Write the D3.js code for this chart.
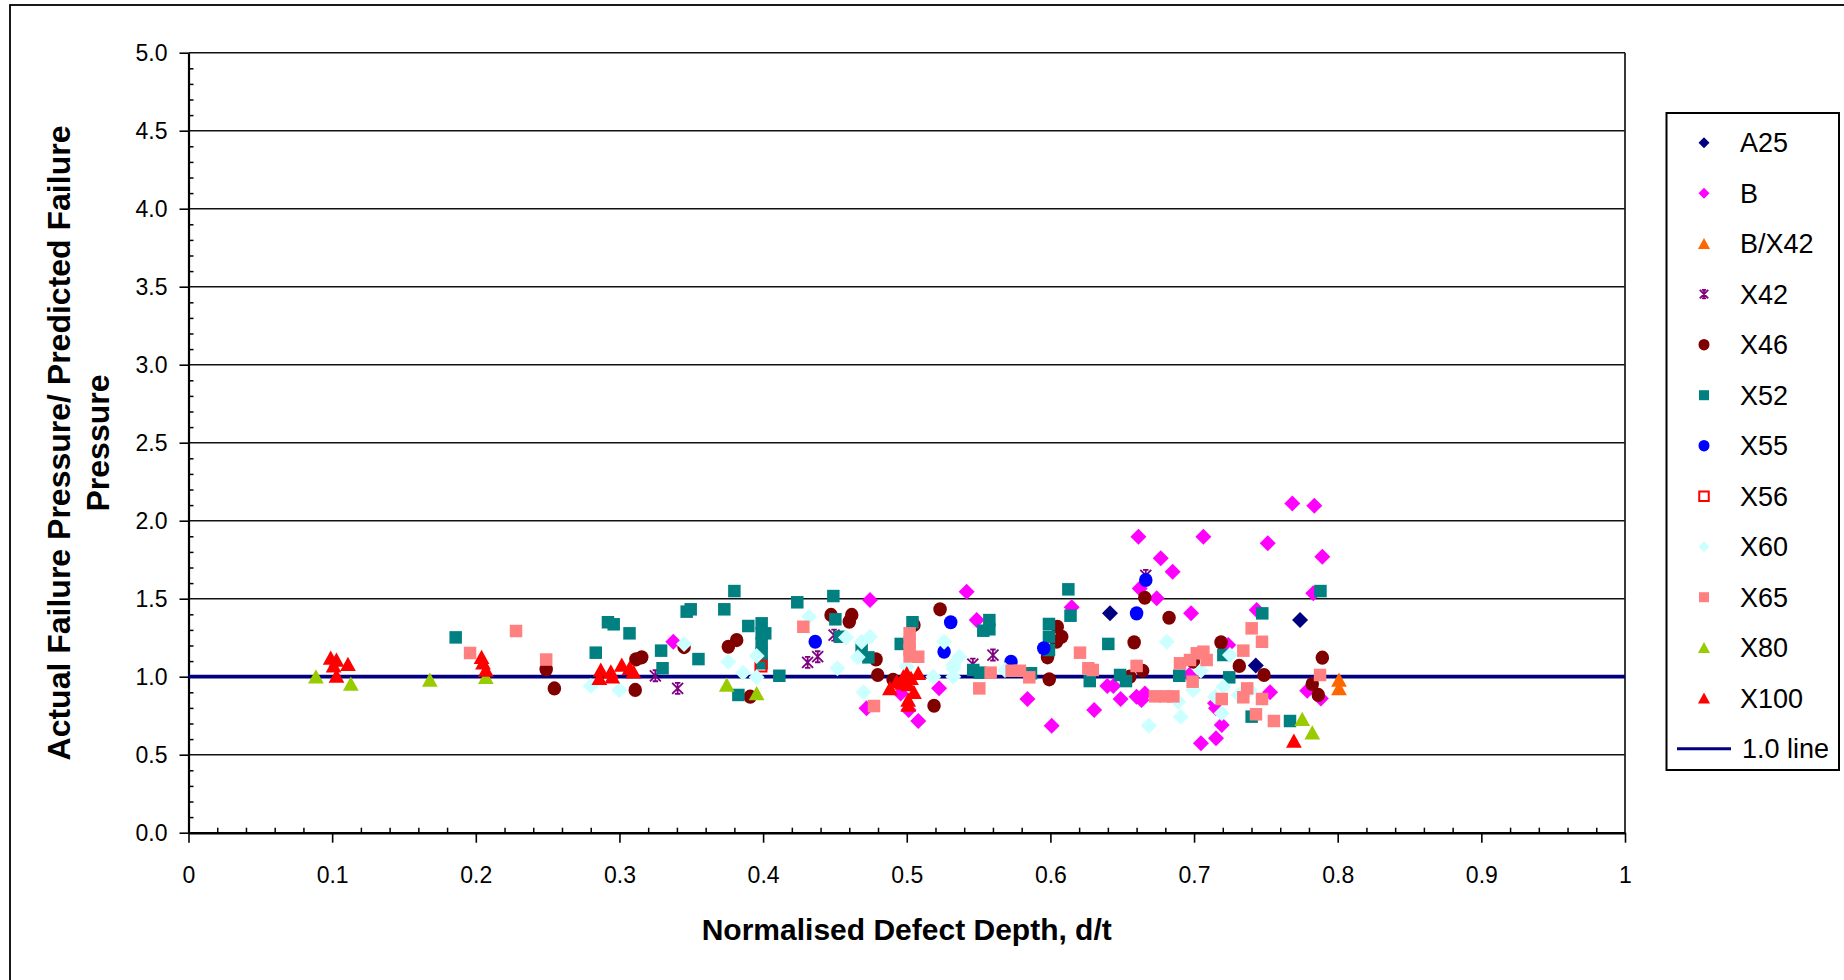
<!DOCTYPE html>
<html>
<head>
<meta charset="utf-8">
<script src="https://cdn.jsdelivr.net/npm/d3@7"></script>
<style>
  html, body { margin: 0; padding: 0; background: #fff; overflow: hidden; }
  svg { display: block; }
  text { font-family: "Liberation Sans", Arial, sans-serif; fill: #000; }
</style>
</head>
<body>
<div id="chart"></div>
<script>
// ---- data ----
const xTicks = [0, 0.1, 0.2, 0.3, 0.4, 0.5, 0.6, 0.7, 0.8, 0.9, 1];
const xTickLabels = ["0", "0.1", "0.2", "0.3", "0.4", "0.5", "0.6", "0.7", "0.8", "0.9", "1"];
const yTicks = [0, 0.5, 1, 1.5, 2, 2.5, 3, 3.5, 4, 4.5, 5];
const yTickLabels = ["0.0", "0.5", "1.0", "1.5", "2.0", "2.5", "3.0", "3.5", "4.0", "4.5", "5.0"];

const a25 = [[0.6415, 1.406], [0.7738, 1.363], [0.743, 1.071]];
const b = [
  [0.3375, 1.224], [0.4744, 1.492], [0.472, 0.797], [0.4958, 0.893], [0.5013, 0.787],
  [0.508, 0.716], [0.5225, 0.926], [0.5417, 1.545], [0.5487, 1.363], [0.584, 0.857],
  [0.6009, 0.686], [0.6148, 1.445], [0.6305, 0.787], [0.6396, 0.94], [0.6438, 0.94],
  [0.6489, 0.857], [0.6613, 1.897], [0.6622, 1.566], [0.66, 0.872], [0.6634, 0.851],
  [0.6658, 0.893], [0.674, 1.503], [0.6768, 1.759], [0.6851, 1.673], [0.6979, 1.406],
  [0.7065, 1.897], [0.6967, 1.011], [0.7146, 0.83], [0.7153, 0.797], [0.7193, 0.69],
  [0.7048, 0.573], [0.7153, 0.605], [0.7238, 1.203], [0.7436, 1.427], [0.7513, 1.855],
  [0.7529, 0.9], [0.7684, 2.111], [0.7837, 2.096], [0.7893, 1.769], [0.783, 1.535],
  [0.7788, 0.91], [0.7883, 0.861]
];
const bx42 = [[0.8009, 0.979], [0.8009, 0.925]];
const x42 = [
  [0.325, 1.006], [0.3405, 0.925], [0.431, 1.092], [0.438, 1.128], [0.4494, 1.267],
  [0.546, 1.081], [0.56, 1.139], [0.6664, 1.65]
];
const x46 = [
  [0.249, 1.047], [0.2547, 0.925], [0.3115, 1.111], [0.3155, 1.124], [0.311, 0.915],
  [0.345, 1.19], [0.3758, 1.192], [0.3816, 1.235], [0.391, 0.872], [0.4473, 1.396],
  [0.4617, 1.396], [0.46, 1.353], [0.4786, 1.111], [0.4798, 1.011], [0.4905, 0.98],
  [0.505, 1.331], [0.519, 0.814], [0.5232, 1.432], [0.5992, 0.983], [0.598, 1.124],
  [0.6048, 1.32], [0.6079, 1.256], [0.6043, 1.224], [0.6554, 1.0], [0.6583, 1.22],
  [0.6642, 1.038], [0.6657, 1.506], [0.6826, 1.378], [0.6995, 1.096], [0.7188, 1.22],
  [0.7315, 1.069], [0.7487, 1.011], [0.7893, 1.122], [0.7823, 0.953], [0.7865, 0.883]
];
const x52 = [
  [0.186, 1.252], [0.2835, 1.154], [0.292, 1.349], [0.296, 1.336], [0.307, 1.278],
  [0.329, 1.167], [0.33, 1.054], [0.3468, 1.417], [0.3496, 1.432], [0.355, 1.113],
  [0.373, 1.432], [0.38, 1.549], [0.3828, 0.883], [0.3897, 1.325], [0.399, 1.342],
  [0.399, 1.278], [0.399, 1.214], [0.399, 1.15], [0.399, 1.086], [0.4015, 1.278],
  [0.4113, 1.006], [0.4238, 1.477], [0.4489, 1.517], [0.4503, 1.368], [0.4535, 1.256],
  [0.4686, 1.182], [0.4733, 1.124], [0.4958, 1.21], [0.504, 1.349], [0.5463, 1.043],
  [0.551, 1.026], [0.5575, 1.363], [0.5533, 1.295], [0.5575, 1.304], [0.5865, 1.022],
  [0.599, 1.338], [0.599, 1.256], [0.599, 1.171], [0.6125, 1.56], [0.614, 1.391],
  [0.6274, 0.972], [0.6403, 1.21], [0.6485, 1.011], [0.6526, 0.972], [0.6897, 1.006],
  [0.7204, 1.139], [0.7245, 0.996], [0.7401, 0.744], [0.7475, 1.406], [0.7668, 0.716],
  [0.788, 1.549]
];
const x55 = [
  [0.4363, 1.224], [0.5306, 1.349], [0.526, 1.16], [0.5726, 1.096], [0.5954, 1.182],
  [0.66, 1.406], [0.6664, 1.62]
];
const x56 = [[0.3985, 1.069]];
const x60 = [
  [0.28, 0.94], [0.2999, 0.915], [0.345, 1.21], [0.3758, 1.096], [0.386, 1.026],
  [0.3955, 1.133], [0.3955, 0.996], [0.432, 1.385], [0.4517, 1.054], [0.4577, 1.252],
  [0.4659, 1.124], [0.4686, 1.224], [0.4744, 1.256], [0.47, 0.9], [0.5, 1.064],
  [0.5185, 1.0], [0.526, 1.224], [0.5324, 1.075], [0.5324, 1.0], [0.5366, 1.128],
  [0.5324, 1.054], [0.5684, 1.043], [0.6685, 0.686], [0.681, 1.224], [0.689, 0.84],
  [0.6907, 0.744], [0.6995, 0.915], [0.7047, 1.038], [0.7146, 0.872], [0.7204, 0.936],
  [0.7193, 0.765], [0.725, 1.139], [0.731, 0.883], [0.7331, 0.893], [0.739, 0.915]
];
const x65 = [
  [0.196, 1.152], [0.228, 1.293], [0.249, 1.11], [0.428, 1.32], [0.4772, 0.812],
  [0.502, 1.278], [0.502, 1.224], [0.502, 1.17], [0.502, 1.13], [0.508, 1.128],
  [0.5505, 0.925], [0.5584, 1.026], [0.573, 1.038], [0.5788, 1.038], [0.5853, 0.996],
  [0.6206, 1.154], [0.6264, 1.054], [0.6295, 1.043], [0.66, 1.069], [0.6728, 0.874],
  [0.6798, 0.874], [0.6856, 0.874], [0.6902, 1.086], [0.6972, 1.107], [0.7019, 1.15],
  [0.7065, 1.16], [0.7088, 1.107], [0.699, 0.968], [0.7193, 0.857], [0.7343, 1.167],
  [0.7401, 1.31], [0.7473, 1.224], [0.737, 0.925], [0.7343, 0.868], [0.7431, 0.759],
  [0.7473, 0.857], [0.7556, 0.716], [0.7877, 1.011]
];
const x80 = [
  [0.0887, 1.0], [0.113, 0.953], [0.168, 0.979], [0.207, 0.996], [0.3747, 0.947],
  [0.3955, 0.893], [0.7753, 0.727], [0.7823, 0.641]
];
const x100 = [
  [0.099, 1.12], [0.103, 1.107], [0.101, 1.07], [0.111, 1.08], [0.103, 1.005],
  [0.204, 1.124], [0.205, 1.09], [0.207, 1.043],
  [0.287, 1.043], [0.286, 0.99], [0.294, 1.032], [0.295, 1.0], [0.3016, 1.075],
  [0.307, 1.054], [0.3097, 1.032],
  [0.4883, 0.925], [0.493, 0.968], [0.4976, 1.0], [0.5, 1.02], [0.503, 0.99],
  [0.508, 1.022], [0.501, 0.95], [0.501, 0.851], [0.501, 0.818], [0.505, 0.9],
  [0.497, 0.96], [0.7695, 0.588]
];
const oneLine = [[0, 1], [1, 1]];

// series table (drawing order = legend order)
const series = [
  { name: "A25", data: a25, color: "#000080", shape: "diamond" },
  { name: "B", data: b, color: "#FF00FF", shape: "diamond" },
  { name: "B/X42", data: bx42, color: "#FF6600", shape: "triangle" },
  { name: "X42", data: x42, color: "#800080", shape: "star" },
  { name: "X46", data: x46, color: "#800000", shape: "circle" },
  { name: "X52", data: x52, color: "#008080", shape: "square" },
  { name: "X55", data: x55, color: "#0000FF", shape: "circle" },
  { name: "X56", data: x56, color: "#FF0000", shape: "hollow" },
  { name: "X60", data: x60, color: "#CCFFFF", shape: "diamond" },
  { name: "X65", data: x65, color: "#FF8080", shape: "square" },
  { name: "X80", data: x80, color: "#99CC00", shape: "triangle" },
  { name: "X100", data: x100, color: "#FF0000", shape: "triangle" }
];

const width = 1844, height = 980;

const svg = d3.select("#chart")
    .append("svg")
    .attr("width", width)
    .attr("height", height);

// outer chart frame (runs off the bottom/right edge)
svg.append("rect")
    .attr("x", 10).attr("y", 5)
    .attr("width", 2000).attr("height", 2000)
    .attr("fill", "#fff")
    .attr("stroke", "#000")
    .attr("stroke-width", 1.8);

const x = d3.scaleLinear().domain([0, 1]).range([188.5, 1625]);
const y = d3.scaleLinear().domain([0, 5]).range([832.7, 52.7]);

// gridlines
svg.append("g")
    .selectAll("line")
    .data(yTicks.filter(d => d > 0))
    .enter()
    .append("line")
    .attr("x1", x(0)).attr("x2", x(1))
    .attr("y1", d => y(d)).attr("y2", d => y(d))
    .attr("stroke", "#111")
    .attr("stroke-width", 1.5);

// right border of the plot area
svg.append("line")
    .attr("x1", x(1)).attr("x2", x(1))
    .attr("y1", y(5)).attr("y2", y(0))
    .attr("stroke", "#222")
    .attr("stroke-width", 1.8);

// minor ticks (inside)
const yMinor = d3.range(0, 51).map(i => i / 10).filter(v => Math.round(v * 10) % 5 !== 0);
const xMinor = d3.range(0, 51).map(i => i / 50).filter(v => Math.round(v * 50) % 5 !== 0);

svg.append("g")
    .attr("transform", `translate(${x(0)},0)`)
    .call(d3.axisLeft(y).tickValues(yMinor).tickSize(-5).tickFormat(""))
    .call(g => g.select(".domain").remove())
    .call(g => g.selectAll("line").attr("stroke", "#000").attr("stroke-width", 1.5));

svg.append("g")
    .attr("transform", `translate(0,${y(0)})`)
    .call(d3.axisBottom(x).tickValues(xMinor).tickSize(-5).tickFormat(""))
    .call(g => g.select(".domain").remove())
    .call(g => g.selectAll("line").attr("stroke", "#000").attr("stroke-width", 1.5));

// major axes
svg.append("g")
    .attr("transform", `translate(${x(0)},0)`)
    .call(d3.axisLeft(y)
        .tickValues(yTicks)
        .tickSize(9)
        .tickSizeOuter(0)
        .tickPadding(12)
        .tickFormat((d, i) => yTickLabels[i]))
    .call(g => g.select(".domain").attr("stroke", "#000").attr("stroke-width", 2.2))
    .call(g => g.selectAll(".tick line").attr("stroke", "#000").attr("stroke-width", 1.6))
    .call(g => g.selectAll("text").attr("font-size", 23).attr("font-family", "Liberation Sans, Arial, sans-serif").attr("fill", "#000"));

svg.append("g")
    .attr("transform", `translate(0,${y(0)})`)
    .call(d3.axisBottom(x)
        .tickValues(xTicks)
        .tickSize(10)
        .tickSizeOuter(0)
        .tickPadding(24)
        .tickFormat((d, i) => xTickLabels[i]))
    .call(g => g.select(".domain").attr("stroke", "#000").attr("stroke-width", 2.4))
    .call(g => g.selectAll(".tick line").attr("stroke", "#000").attr("stroke-width", 1.6))
    .call(g => g.selectAll("text").attr("font-size", 23).attr("font-family", "Liberation Sans, Arial, sans-serif").attr("fill", "#000"));

// 1.0 line
svg.append("path")
    .datum(oneLine)
    .attr("d", d3.line().x(d => x(d[0])).y(d => y(d[1])))
    .attr("fill", "none")
    .attr("stroke", "#000080")
    .attr("stroke-width", 3.8);

// marker shapes
function markerPath(shape, s) {
    const h = s / 2;
    switch (shape) {
        case "diamond": return `M0,${-h}L${h},0L0,${h}L${-h},0Z`;
        case "square":
        case "hollow": return `M${-h},${-h}H${h}V${h}H${-h}Z`;
        case "triangle": return `M0,${-h}L${h * 1.05},${h * 0.9}L${-h * 1.05},${h * 0.9}Z`;
        case "circle": return `M${-h},0A${h},${h * 1.05} 0 1,0 ${h},0A${h},${h * 1.05} 0 1,0 ${-h},0Z`;
        case "star": return `M${-h},${-h}L${h},${h}M${h},${-h}L${-h},${h}M0,${-h}L0,${h}M${-h * 0.5},${-h}H${h * 0.5}M${-h * 0.5},${h}H${h * 0.5}`;
    }
}
const plotSize = { diamond: 16, square: 12.5, hollow: 11, triangle: 15, circle: 13.5, star: 11 };
const legendSize = { diamond: 11, square: 10, hollow: 9.5, triangle: 11.5, circle: 11, star: 8.5 };

function styleMarker(sel, s) {
    if (s.shape === "hollow") {
        sel.attr("fill", "none").attr("stroke", s.color).attr("stroke-width", 2);
    } else if (s.shape === "star") {
        sel.attr("fill", "none").attr("stroke", s.color).attr("stroke-width", 1.8);
    } else {
        sel.attr("fill", s.color).attr("stroke", "none");
    }
}

const marks = svg.append("g").attr("class", "marks");
series.forEach(s => {
    const sel = marks.append("g")
        .selectAll("path")
        .data(s.data)
        .enter()
        .append("path")
        .attr("transform", d => `translate(${x(d[0])},${y(d[1])})`)
        .attr("d", markerPath(s.shape, plotSize[s.shape]));
    styleMarker(sel, s);
});

// axis titles
const yTitle = svg.append("g").attr("font-weight", "bold").attr("font-size", 32);
yTitle.append("text")
    .attr("transform", "translate(70,443) rotate(-90)")
    .attr("text-anchor", "middle")
    .text("Actual Failure Pressure/ Predicted Failure");
yTitle.append("text")
    .attr("transform", "translate(108.5,443) rotate(-90)")
    .attr("text-anchor", "middle")
    .text("Pressure");

svg.append("text")
    .attr("x", (x(0) + x(1)) / 2)
    .attr("y", 940)
    .attr("text-anchor", "middle")
    .attr("font-weight", "bold")
    .attr("font-size", 30)
    .text("Normalised Defect Depth, d/t");

// legend
const legend = svg.append("g");
legend.append("rect")
    .attr("x", 1666.5).attr("y", 113)
    .attr("width", 172.5).attr("height", 657)
    .attr("fill", "#fff")
    .attr("stroke", "#000")
    .attr("stroke-width", 2);

const rowY = i => 142.7 + i * 50.5;
series.forEach((s, i) => {
    const m = legend.append("path")
        .attr("transform", `translate(1704,${rowY(i)})`)
        .attr("d", markerPath(s.shape, legendSize[s.shape]));
    styleMarker(m, s);
    legend.append("text")
        .attr("x", 1740).attr("y", rowY(i) + 9.5)
        .attr("font-size", 27)
        .text(s.name);
});
const lastRow = rowY(series.length);
legend.append("line")
    .attr("x1", 1677).attr("x2", 1731)
    .attr("y1", lastRow).attr("y2", lastRow)
    .attr("stroke", "#000080")
    .attr("stroke-width", 3);
legend.append("text")
    .attr("x", 1742).attr("y", lastRow + 9.5)
    .attr("font-size", 27)
    .text("1.0 line");
</script>
</body>
</html>
